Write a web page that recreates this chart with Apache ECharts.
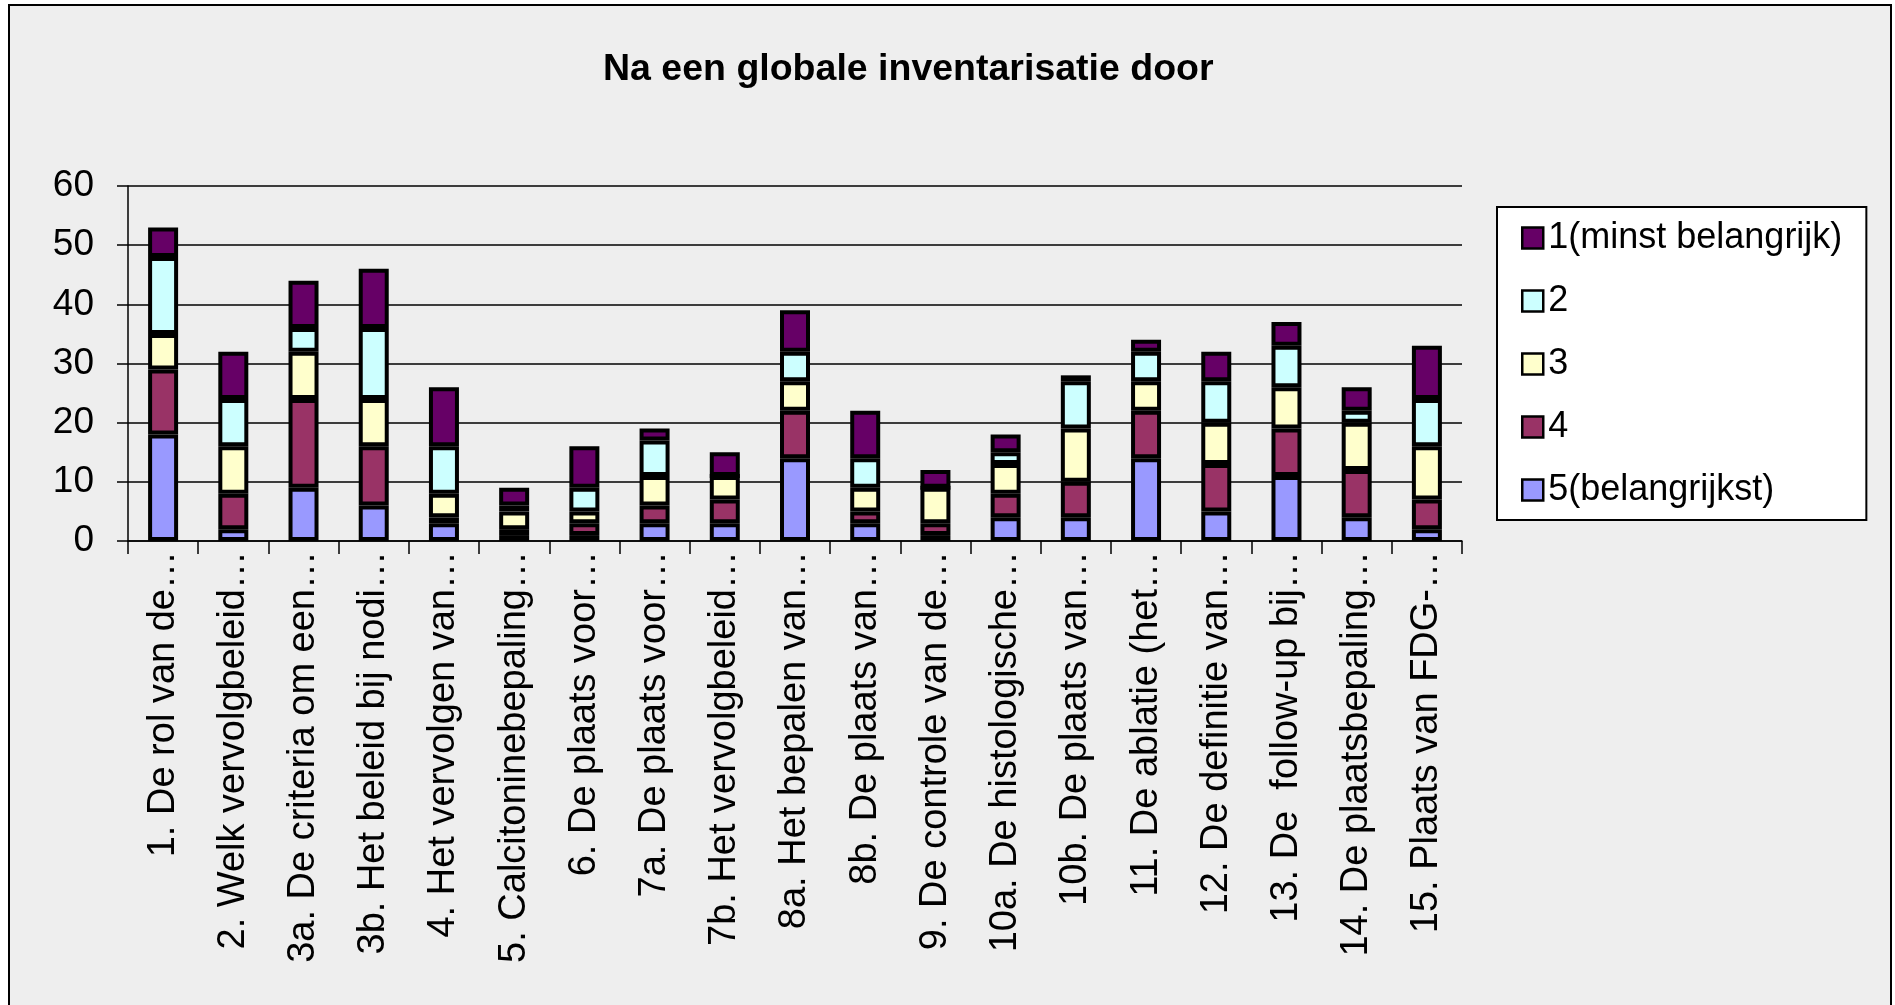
<!DOCTYPE html>
<html>
<head>
<meta charset="utf-8">
<title>Na een globale inventarisatie door</title>
<script src="https://cdn.jsdelivr.net/npm/echarts@6/dist/echarts.min.js"></script>
<style>
  html, body { margin: 0; padding: 0; background: #fff; }
  #chart { width: 1895px; height: 1005px; }
</style>
</head>
<body>
<div id="chart"></div>
<script>
// categories (labels are already truncated in the original)
var categories = [
  "1. De rol van de…",
  "2. Welk vervolgbeleid…",
  "3a. De criteria om een…",
  "3b. Het beleid bij nodi…",
  "4. Het vervolgen van…",
  "5. Calcitoninebepaling…",
  "6. De plaats voor…",
  "7a. De plaats voor…",
  "7b. Het vervolgbeleid…",
  "8a. Het bepalen van…",
  "8b. De plaats van…",
  "9. De controle van de…",
  "10a. De histologische…",
  "10b. De plaats van…",
  "11. De ablatie (het…",
  "12. De definitie van…",
  "13. De  follow-up bij…",
  "14. De plaatsbepaling…",
  "15. Plaats van FDG-…"
];

var seriesNames = ["1(minst belangrijk)", "2", "3", "4", "5(belangrijkst)"];

// values per importance score
var score5 = [18, 2, 9, 6, 3, 1, 1, 3, 3, 14, 3, 1, 4, 4, 14, 5, 11, 4, 2];
var score4 = [11, 6, 15, 10, 1, 1, 2, 3, 4, 8, 2, 2, 4, 6, 8, 8, 8, 8, 5];
var score3 = [6, 8, 8, 8, 4, 3, 2, 5, 4, 5, 4, 6, 5, 9, 5, 7, 7, 8, 9];
var score2 = [13, 8, 4, 12, 8, 1, 4, 6, 0, 5, 5, 0, 2, 8, 5, 7, 7, 2, 8];
var score1 = [5, 8, 8, 10, 10, 3, 7, 2, 4, 7, 8, 3, 3, 1, 2, 5, 4, 4, 9];

var colors = {
  "1(minst belangrijk)": "#660066",
  "2": "#CCFFFF",
  "3": "#FFFFCC",
  "4": "#993366",
  "5(belangrijkst)": "#9999FF"
};

var font = "Liberation Sans, Arial, sans-serif";

function barSeries(name, data) {
  return {
    name: name,
    type: "bar",
    stack: "total",
    barWidth: 30,
    data: data,
    itemStyle: {
      color: colors[name],
      borderColor: "#000",
      borderWidth: 4
    },
    emphasis: { disabled: true }
  };
}

var chart = echarts.init(document.getElementById("chart"));

chart.setOption({
  animation: false,
  backgroundColor: "#fff",
  textStyle: { fontFamily: font },
  graphic: [
    {
      type: "rect",
      z: -10,
      silent: true,
      shape: { x: 9, y: 5, width: 1882, height: 1020 },
      style: { fill: "#EEEEEE", stroke: "#000", lineWidth: 2 }
    }
  ],
  title: {
    text: "Na een globale inventarisatie door",
    left: 598,
    top: 46,
    textStyle: {
      fontFamily: font,
      fontSize: 37.5,
      fontWeight: "bold",
      color: "#000"
    }
  },
  legend: {
    orient: "vertical",
    left: 1497,
    top: 207,
    padding: [13, 24, 12, 24],
    itemWidth: 21,
    itemHeight: 21,
    itemGap: 27,
    icon: "rect",
    backgroundColor: "#fff",
    borderColor: "#000",
    borderWidth: 2,
    data: seriesNames,
    itemStyle: { borderColor: "#000", borderWidth: 2.5 },
    textStyle: { fontFamily: font, fontSize: 36, color: "#000" }
  },
  grid: {
    left: 128,
    top: 186,
    right: 433,
    bottom: 464,
    containLabel: false
  },
  xAxis: {
    type: "category",
    data: categories,
    boundaryGap: true,
    axisLine: { show: true, lineStyle: { color: "#000", width: 1.5 } },
    axisTick: { show: true, length: 13, lineStyle: { color: "#000", width: 1.5 } },
    axisLabel: {
      rotate: 90,
      interval: 0,
      margin: 10,
      color: "#000",
      fontFamily: font,
      fontSize: 38
    }
  },
  yAxis: {
    type: "value",
    min: 0,
    max: 60,
    interval: 10,
    axisLine: { show: true, lineStyle: { color: "#000", width: 1.5 } },
    axisTick: { show: true, length: 11, lineStyle: { color: "#000", width: 1.5 } },
    splitLine: { show: true, lineStyle: { color: "#000", width: 1.5 } },
    axisLabel: {
      margin: 34,
      color: "#000",
      fontFamily: font,
      fontSize: 37
    }
  },
  series: [
    barSeries("5(belangrijkst)", score5),
    barSeries("4", score4),
    barSeries("3", score3),
    barSeries("2", score2),
    barSeries("1(minst belangrijk)", score1)
  ]
});
</script>
</body>
</html>
